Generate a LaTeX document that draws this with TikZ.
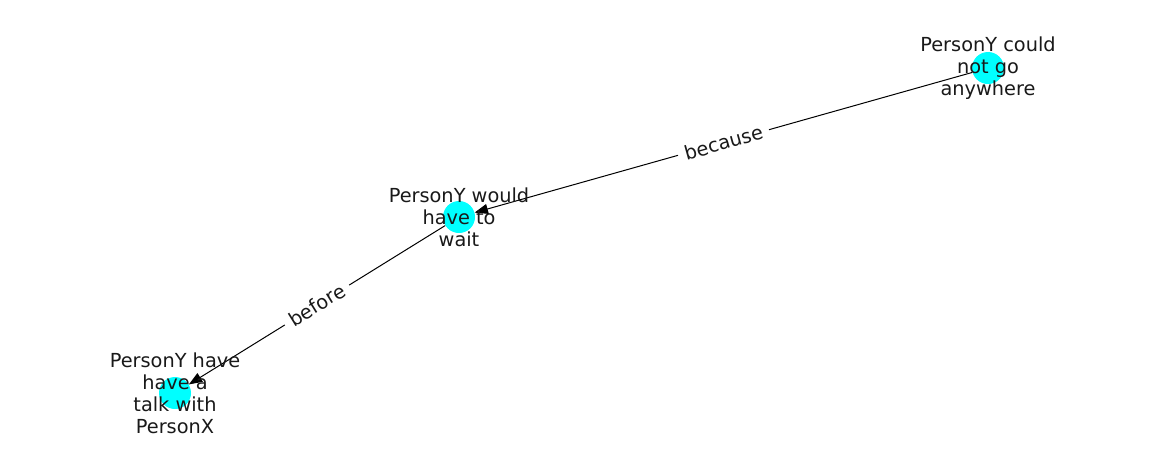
\documentclass[tikz,border=0pt]{standalone}
\usepackage{fontspec}
\setmainfont{DejaVu Sans}
\usepackage{tikz}
\usetikzlibrary{positioning, arrows.meta}
\definecolor{nodecyan}{HTML}{00FFFF}

\begin{document}
\begin{tikzpicture}[
  x=0.75pt, y=-0.75pt,
  event/.style={circle, fill=nodecyan, minimum size=24pt, inner sep=0pt},
  eventtext/.style={align=center, inner sep=0pt, text=black!90,
    font=\fontsize{14.5}{16.5}\selectfont},
  relation/.style={-{Triangle[length=10pt, width=7.5pt]}, line width=0.75pt},
  relationlabel/.style={sloped, fill=white, inner xsep=5pt, inner ysep=3pt,
    text=black!90, font=\fontsize{14.5}{16.5}\selectfont},
]
\useasboundingbox (0,0) rectangle (1162,462);

% ── Events ──────────────────────────────────────────────
\node[event] (couldnot) at (988,68) {};
\node[event] (wait) at (459,217) {};
\node[event] (talk) at (175,393) {};

% ── Relations ───────────────────────────────────────────
\draw[relation] (couldnot) -- node[relationlabel] (because) {because} (wait);
\draw[relation] (wait) -- node[relationlabel] (before) {before} (talk);

% ── Event texts ─────────────────────────────────────────
\node[eventtext] (couldnottext) at (couldnot)
  {PersonY could\\not go\\anywhere};
\node[eventtext] (waittext) at (wait)
  {PersonY would\\have to\\wait};
\node[eventtext] (talktext) at (talk)
  {PersonY have\\have a\\talk with\\PersonX};

\end{tikzpicture}
\end{document}
